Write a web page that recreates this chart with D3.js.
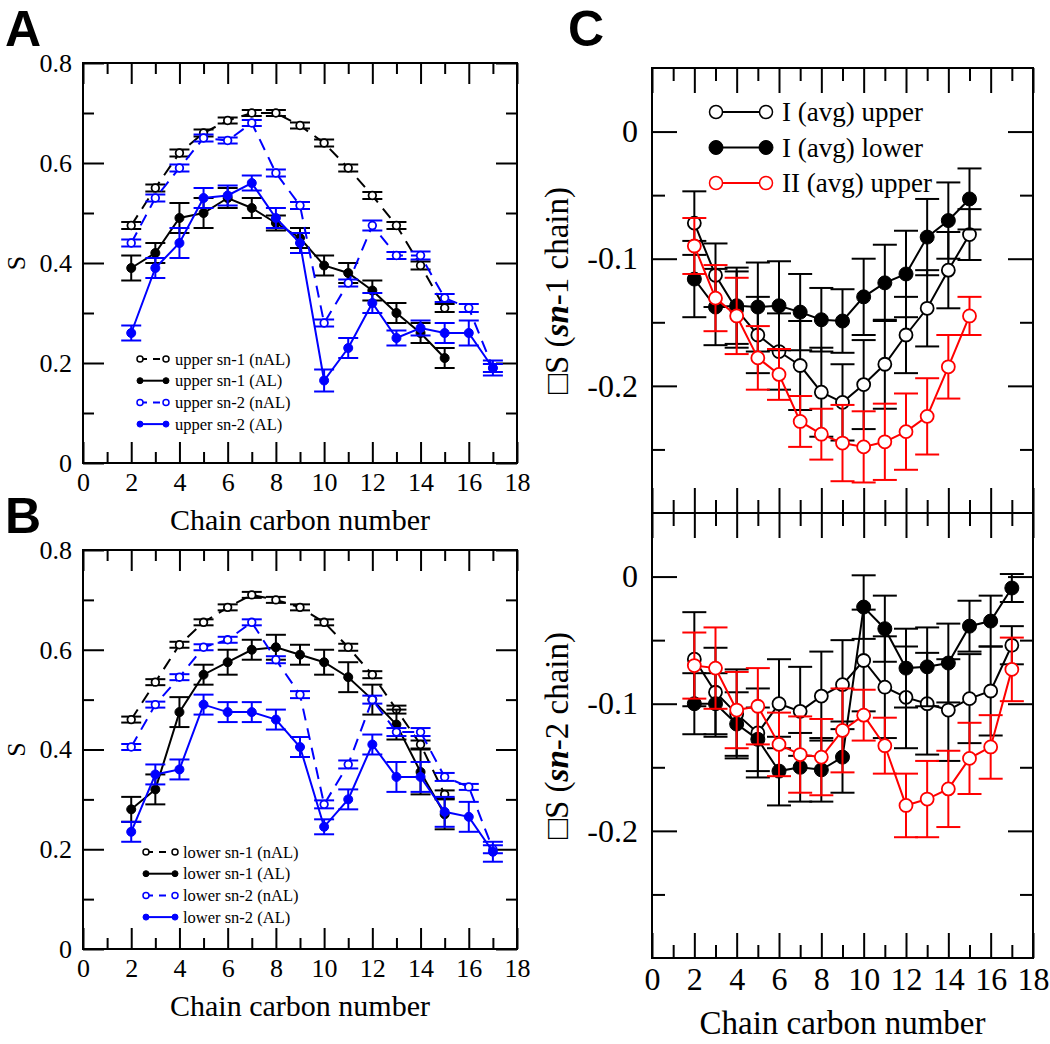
<!DOCTYPE html>
<html><head><meta charset="utf-8">
<script src="https://cdn.jsdelivr.net/npm/d3@7"></script>
<style>
body{margin:0;background:#fff}
svg{display:block}
text{font-family:'Liberation Serif','Times New Roman',serif;fill:#000}
</style></head>
<body><svg id="chart" width="1050" height="1044"></svg>
<script>
// ---------- categories ----------
const carbonSn1 = [2,3,4,5,6,7,8,9,10,11,12,13,14,15];
const carbonSn2 = [2,3,4,5,6,7,8,9,10,11,12,13,14,15,16,17];
const xTickLabels = [0,2,4,6,8,10,12,14,16,18];
const xMinorTicks = [1,3,5,7,9,11,13,15,17];
const sTickLabels = [0,0.2,0.4,0.6,0.8];
const sMinorTicks = [0.1,0.3,0.5,0.7];
const dsTickLabels = [0,-0.1,-0.2];
const dsMinorTicks = [-0.05,-0.15,-0.25];

// ---------- panel A (upper leaflet) ----------
const upperSn1nAL    = [0.475,0.55,0.62,0.66,0.685,0.70,0.70,0.675,0.64,0.59,0.535,0.475,0.395,0.31];
const upperSn1nALErr = [0.007,0.007,0.007,0.007,0.006,0.006,0.006,0.006,0.007,0.007,0.007,0.007,0.008,0.008];
const upperSn1AL     = [0.39,0.42,0.49,0.50,0.53,0.51,0.48,0.45,0.395,0.38,0.345,0.30,0.26,0.21];
const upperSn1ALErr  = [0.025,0.02,0.03,0.03,0.02,0.02,0.015,0.02,0.02,0.02,0.02,0.02,0.02,0.02];
const upperSn2nAL    = [0.44,0.53,0.59,0.65,0.645,0.68,0.58,0.515,0.28,0.36,0.475,0.415,0.415,0.33,0.31,0.19];
const upperSn2nALErr = [0.007,0.007,0.007,0.007,0.006,0.006,0.007,0.007,0.007,0.007,0.01,0.007,0.008,0.008,0.008,0.008];
const upperSn2AL     = [0.26,0.39,0.44,0.53,0.535,0.56,0.49,0.44,0.165,0.23,0.32,0.25,0.27,0.26,0.26,0.19];
const upperSn2ALErr  = [0.015,0.02,0.03,0.02,0.02,0.015,0.02,0.02,0.022,0.02,0.02,0.015,0.015,0.02,0.025,0.015];

// ---------- panel B (lower leaflet) ----------
const lowerSn1nAL    = [0.46,0.535,0.61,0.655,0.685,0.71,0.70,0.685,0.655,0.605,0.55,0.48,0.41,0.31];
const lowerSn1nALErr = [0.006,0.006,0.006,0.006,0.006,0.006,0.006,0.006,0.006,0.007,0.007,0.008,0.008,0.008];
const lowerSn1AL     = [0.28,0.32,0.475,0.55,0.575,0.60,0.605,0.59,0.575,0.545,0.50,0.45,0.355,0.27];
const lowerSn1ALErr  = [0.025,0.03,0.03,0.02,0.025,0.02,0.025,0.02,0.025,0.03,0.03,0.03,0.045,0.03];
const lowerSn2nAL    = [0.405,0.49,0.545,0.605,0.62,0.655,0.58,0.51,0.29,0.37,0.50,0.435,0.435,0.345,0.325,0.20];
const lowerSn2nALErr = [0.006,0.006,0.006,0.006,0.006,0.006,0.007,0.007,0.008,0.008,0.008,0.008,0.008,0.008,0.006,0.008];
const lowerSn2AL     = [0.235,0.35,0.36,0.49,0.475,0.475,0.46,0.405,0.245,0.30,0.41,0.345,0.345,0.275,0.265,0.195];
const lowerSn2ALErr  = [0.02,0.02,0.02,0.02,0.02,0.02,0.02,0.02,0.015,0.02,0.02,0.03,0.03,0.03,0.03,0.02];

// ---------- panel C top (sn-1 chain) ----------
const dSn1IUpper     = [-0.072,-0.113,-0.14,-0.16,-0.173,-0.184,-0.205,-0.213,-0.199,-0.183,-0.160,-0.139,-0.109,-0.081];
const dSn1IUpperErr  = [0.025,0.025,0.03,0.03,0.03,0.035,0.035,0.03,0.035,0.035,0.03,0.03,0.03,0.02];
const dSn1ILower     = [-0.116,-0.138,-0.137,-0.138,-0.137,-0.142,-0.148,-0.149,-0.130,-0.119,-0.112,-0.083,-0.070,-0.053];
const dSn1ILowerErr  = [0.03,0.03,0.03,0.035,0.035,0.03,0.025,0.025,0.03,0.03,0.034,0.03,0.03,0.024];
const dSn1IIUpper    = [-0.090,-0.131,-0.145,-0.178,-0.191,-0.228,-0.238,-0.245,-0.248,-0.244,-0.236,-0.224,-0.185,-0.145];
const dSn1IIUpperErr = [0.022,0.026,0.03,0.025,0.02,0.02,0.02,0.03,0.028,0.03,0.03,0.03,0.025,0.015];

// ---------- panel C bottom (sn-2 chain) ----------
const dSn2IUpper     = [-0.065,-0.091,-0.108,-0.123,-0.100,-0.106,-0.094,-0.085,-0.066,-0.087,-0.095,-0.100,-0.105,-0.096,-0.090,-0.054];
const dSn2IUpperErr  = [0.037,0.035,0.035,0.035,0.035,0.035,0.035,0.035,0.04,0.04,0.04,0.04,0.04,0.035,0.035,0.015];
const dSn2ILower     = [-0.100,-0.100,-0.116,-0.128,-0.153,-0.150,-0.152,-0.142,-0.024,-0.041,-0.072,-0.071,-0.068,-0.039,-0.035,-0.009];
const dSn2ILowerErr  = [0.024,0.024,0.025,0.025,0.027,0.027,0.025,0.028,0.025,0.026,0.031,0.031,0.031,0.02,0.02,0.011];
const dSn2IIUpper    = [-0.070,-0.072,-0.105,-0.102,-0.132,-0.140,-0.142,-0.121,-0.109,-0.133,-0.180,-0.175,-0.167,-0.143,-0.134,-0.073];
const dSn2IIUpperErr = [0.026,0.032,0.03,0.03,0.025,0.03,0.03,0.033,0.02,0.022,0.025,0.03,0.03,0.028,0.025,0.025];

const svg = d3.select('#chart');

function drawAxes(g, x, y, o){
  const [x0,x1] = x.range(), [y0,y1] = y.range();
  const fmt = v => String(v);
  const strip = s => { s.select('.domain').remove(); s.selectAll('line').attr('stroke','#000').attr('stroke-width',2); s.selectAll('text').attr('font-family',"'Liberation Serif',serif").attr('font-size',o.font).attr('fill','#000'); };
  g.append('g').attr('transform',`translate(0,${y0})`)
    .call(d3.axisBottom(x).tickValues(o.xMaj).tickSize(-o.maj).tickPadding(o.pad).tickFormat(o.xLabels?fmt:''))
    .call(strip);
  g.append('g').attr('transform',`translate(0,${y0})`)
    .call(d3.axisBottom(x).tickValues(o.xMin).tickSize(-o.min).tickFormat('')).call(strip);
  g.append('g').attr('transform',`translate(0,${y1})`)
    .call(d3.axisTop(x).tickValues(o.xMaj).tickSize(-o.maj).tickFormat('')).call(strip);
  g.append('g').attr('transform',`translate(0,${y1})`)
    .call(d3.axisTop(x).tickValues(o.xMin).tickSize(-o.min).tickFormat('')).call(strip);
  g.append('g').attr('transform',`translate(${x0},0)`)
    .call(d3.axisLeft(y).tickValues(o.yMaj).tickSize(-o.maj).tickPadding(o.ypad).tickFormat(fmt)).call(strip);
  g.append('g').attr('transform',`translate(${x0},0)`)
    .call(d3.axisLeft(y).tickValues(o.yMin).tickSize(-o.min).tickFormat('')).call(strip);
  g.append('g').attr('transform',`translate(${x1},0)`)
    .call(d3.axisRight(y).tickValues(o.yMaj).tickSize(-o.maj).tickFormat('')).call(strip);
  g.append('g').attr('transform',`translate(${x1},0)`)
    .call(d3.axisRight(y).tickValues(o.yMin).tickSize(-o.min).tickFormat('')).call(strip);
  g.append('rect').attr('x',x0).attr('y',y1).attr('width',x1-x0).attr('height',y0-y1)
    .attr('fill','none').attr('stroke','#000').attr('stroke-width',2);
}

function drawSeries(g, x, y, xs, vals, errs, s){
  const pts = xs.map((c,i)=>({c, v:vals[i], e:errs[i]}));
  const eb = g.append('g').attr('stroke',s.color).attr('stroke-width',s.ebw||2);
  pts.forEach(p=>{
    eb.append('line').attr('x1',x(p.c)).attr('x2',x(p.c)).attr('y1',y(p.v-p.e)).attr('y2',y(p.v+p.e));
    [p.v-p.e,p.v+p.e].forEach(v=>eb.append('line').attr('x1',x(p.c)-s.cap).attr('x2',x(p.c)+s.cap).attr('y1',y(v)).attr('y2',y(v)));
  });
  g.append('path').datum(pts).attr('fill','none').attr('stroke',s.color).attr('stroke-width',s.lw||2)
    .attr('stroke-dasharray',s.dash||null)
    .attr('d',d3.line().x(p=>x(p.c)).y(p=>y(p.v)));
  g.append('g').selectAll('circle').data(pts).join('circle')
    .attr('cx',p=>x(p.c)).attr('cy',p=>y(p.v)).attr('r',s.r)
    .attr('fill',s.open?'#fff':s.color).attr('stroke',s.color).attr('stroke-width',s.open?1.8:1);
}

function legendRow(g, x1, x2, tx, y, label, s, font){
  g.append('line').attr('x1',x1).attr('x2',x2).attr('y1',y).attr('y2',y)
    .attr('stroke',s.color).attr('stroke-width',s.lw||2).attr('stroke-dasharray',s.ldash||null);
  [x1,x2].forEach(cx=>g.append('circle').attr('cx',cx).attr('cy',y).attr('r',s.lr)
    .attr('fill',s.open?'#fff':s.color).attr('stroke',s.color).attr('stroke-width',s.open?1.5:1));
  g.append('text').attr('x',tx).attr('y',y).attr('dy','0.35em').attr('font-size',font).text(label);
}

// ---------- panels A and B ----------
function panelAB(top, bottom, letter, series, legendPos){
  const x = d3.scaleLinear().domain([0,18]).range([83,517]);
  const y = d3.scaleLinear().domain([0,0.8]).range([bottom, top]);
  const g = svg.append('g');
  drawAxes(g, x, y, {xMaj:xTickLabels, xMin:xMinorTicks, yMaj:sTickLabels, yMin:sMinorTicks,
    maj:21, min:11, pad:10, ypad:11, font:26, xLabels:true});
  series.forEach(sr=>drawSeries(g, x, y, sr.xs, sr.v, sr.e, sr.s));
  g.append('text').attr('x',(x.range()[0]+x.range()[1])/2).attr('y',bottom+67)
    .attr('text-anchor','middle').attr('font-size',30).text('Chain carbon number');
  g.append('text').attr('transform',`translate(25,${(top+bottom)/2}) rotate(-90)`)
    .attr('text-anchor','middle').attr('font-size',26).text('S');
  g.append('text').attr('x',5).attr('y',top-17).attr('font-size',50).attr('font-weight','bold')
    .style('font-family',"'Liberation Sans',Arial,sans-serif").text(letter);
  const lg = g.append('g');
  series.forEach((sr,i)=>legendRow(lg, legendPos.x1, legendPos.x2, legendPos.tx, legendPos.y+i*21.7, sr.label, sr.s, 16.5));
}

const sBlackDash = {color:'#000', dash:'12,8', ldash:'7,6', open:true, r:3.8, cap:10, lr:3};
const sBlack     = {color:'#000', open:false, r:4.5, cap:10, lr:3};
const sBlueDash  = {color:'#0000ff', dash:'12,8', ldash:'7,6', open:true, r:3.8, cap:10, lr:3};
const sBlue      = {color:'#0000ff', open:false, r:4.5, cap:10, lr:3};

panelAB(63, 463, 'A', [
  {xs:carbonSn1, v:upperSn1nAL, e:upperSn1nALErr, s:sBlackDash, label:'upper sn-1 (nAL)'},
  {xs:carbonSn1, v:upperSn1AL,  e:upperSn1ALErr,  s:sBlack,     label:'upper sn-1 (AL)'},
  {xs:carbonSn2, v:upperSn2nAL, e:upperSn2nALErr, s:sBlueDash,  label:'upper sn-2 (nAL)'},
  {xs:carbonSn2, v:upperSn2AL,  e:upperSn2ALErr,  s:sBlue,      label:'upper sn-2 (AL)'}
], {x1:140, x2:166, tx:175, y:359});

panelAB(550, 949, 'B', [
  {xs:carbonSn1, v:lowerSn1nAL, e:lowerSn1nALErr, s:sBlackDash, label:'lower sn-1 (nAL)'},
  {xs:carbonSn1, v:lowerSn1AL,  e:lowerSn1ALErr,  s:sBlack,     label:'lower sn-1 (AL)'},
  {xs:carbonSn2, v:lowerSn2nAL, e:lowerSn2nALErr, s:sBlueDash,  label:'lower sn-2 (nAL)'},
  {xs:carbonSn2, v:lowerSn2AL,  e:lowerSn2ALErr,  s:sBlue,      label:'lower sn-2 (AL)'}
], {x1:146, x2:175, tx:183, y:852});

// ---------- panel C ----------
const xc = d3.scaleLinear().domain([0,18]).range([652,1033]);
const sOpenK = {color:'#000', open:true,  r:6.5, cap:12, lr:6.5};
const sFillK = {color:'#000', open:false, r:7,   cap:12, lr:7};
const sOpenR = {color:'#ff0000', open:true, r:6.5, cap:12, lr:6.5};

function panelC(top, bottom, xLabels, series, title){
  const y = d3.scaleLinear().domain([-0.3,0.05]).range([bottom, top]);
  const g = svg.append('g');
  drawAxes(g, xc, y, {xMaj:xTickLabels, xMin:xMinorTicks, yMaj:dsTickLabels, yMin:dsMinorTicks,
    maj:25, min:13, pad:9, ypad:14, font:32, xLabels});
  series.forEach(sr=>drawSeries(g, xc, y, sr.xs, sr.v, sr.e, sr.s));
  const t = g.append('text').attr('transform',`translate(568,${(top+bottom)/2}) rotate(-90)`)
    .attr('text-anchor','middle').attr('font-size',33);
  t.append('tspan').text('□S (');
  t.append('tspan').attr('font-weight','bold').attr('font-style','italic').text('sn');
  t.append('tspan').text('-' + title + ' chain)');
  return g;
}

panelC(68, 513, false, [
  {xs:carbonSn1, v:dSn1IUpper,  e:dSn1IUpperErr,  s:sOpenK},
  {xs:carbonSn1, v:dSn1ILower,  e:dSn1ILowerErr,  s:sFillK},
  {xs:carbonSn1, v:dSn1IIUpper, e:dSn1IIUpperErr, s:sOpenR}
], '1');
panelC(513, 958, true, [
  {xs:carbonSn2, v:dSn2IUpper,  e:dSn2IUpperErr,  s:sOpenK},
  {xs:carbonSn2, v:dSn2ILower,  e:dSn2ILowerErr,  s:sFillK},
  {xs:carbonSn2, v:dSn2IIUpper, e:dSn2IIUpperErr, s:sOpenR}
], '2');

svg.append('text').attr('x',(652+1033)/2).attr('y',1034).attr('text-anchor','middle')
  .attr('font-size',33).text('Chain carbon number');
svg.append('text').attr('x',568).attr('y',46).attr('font-size',50).attr('font-weight','bold')
  .style('font-family',"'Liberation Sans',Arial,sans-serif").text('C');

const lgC = svg.append('g');
[['I (avg) upper', sOpenK],['I (avg) lower', sFillK],['II (avg) upper', sOpenR]]
  .forEach(([lab,s],i)=>legendRow(lgC, 716, 766, 782, 112+i*35.5, lab, s, 27));
</script></body></html>
